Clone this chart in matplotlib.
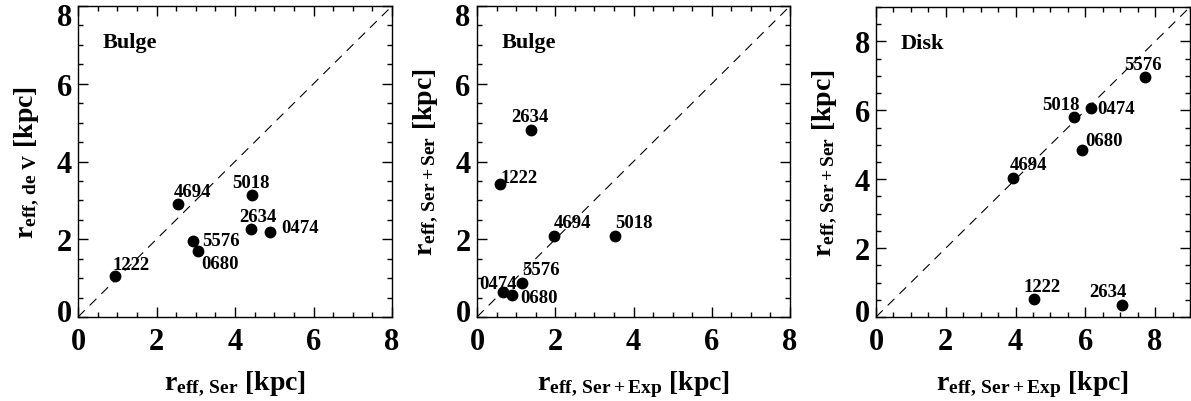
import matplotlib
matplotlib.use("Agg")
import matplotlib.pyplot as plt
import matplotlib.transforms as mtransforms
import numpy as np

plt.rcParams['font.family'] = ['Liberation Serif', 'DejaVu Serif']
plt.rcParams['font.weight'] = 'bold'
plt.rcParams['mathtext.fontset'] = 'custom'
plt.rcParams['mathtext.rm'] = 'Liberation Serif:bold'
plt.rcParams['mathtext.bf'] = 'Liberation Serif:bold'
plt.rcParams['mathtext.it'] = 'Liberation Serif:bold'

# ---- data ----
names1 = ['1222', '4694', '5018', '2634', '0474', '5576', '0680']
x1 = [0.94, 2.54, 4.43, 4.40, 4.89, 2.94, 3.06]
y1 = [1.05, 2.90, 3.13, 2.27, 2.19, 1.95, 1.70]

names2 = ['2634', '1222', '4694', '5018', '5576', '0474', '0680']
x2 = [1.37, 0.58, 1.97, 3.53, 1.15, 0.66, 0.89]
y2 = [4.82, 3.43, 2.08, 2.08, 0.88, 0.64, 0.56]

names3 = ['5576', '5018', '0474', '0680', '4694', '1222', '2634']
x3 = [7.72, 5.67, 6.15, 5.90, 3.93, 4.52, 7.05]
y3 = [6.97, 5.81, 6.07, 4.85, 4.03, 0.53, 0.36]

titles = ['Bulge', 'Bulge', 'Disk']
xlabels = [r'$\mathrm{r}_{\mathrm{eff,\,Ser}}$ [kpc]',
           r'$\mathrm{r}_{\mathrm{eff,\,Ser+Exp}}$ [kpc]',
           r'$\mathrm{r}_{\mathrm{eff,\,Ser+Exp}}$ [kpc]']
ylabels = [r'$\mathrm{r}_{\mathrm{eff,\,de\ V}}$ [kpc]',
           r'$\mathrm{r}_{\mathrm{eff,\,Ser+Ser}}$ [kpc]',
           r'$\mathrm{r}_{\mathrm{eff,\,Ser+Ser}}$ [kpc]']
limits = [8, 8, 9]

# label offsets in pixels (dx right, dy up) -- layout only
offs1 = [(15.7, 11.7), (14.7, 13.0), (-1, 13.3), (7.7, 12.7), (30, 4.7), (28, 0.7), (21.7, -12.7)]
offs2 = [(-1, 12.7), (19.3, 5.7), (18.3, 13.3), (18.7, 13.7), (19.3, 13.3), (-5, 9), (26.7, -2.3)]
offs3 = [(-2.7, 12.3), (-12.7, 12.3), (25.7, -1), (21.7, 9), (15, 13.3), (8.3, 12.7), (-13.7, 12.7)]

W, H = 1191, 402
fig = plt.figure(figsize=(W / 100, H / 100), dpi=100)

boxes = [(78, 7, 314, 311), (477, 7, 313, 311), (876, 8, 314, 310)]
panels = [(names1, x1, y1, offs1), (names2, x2, y2, offs2), (names3, x3, y3, offs3)]

px2pt = 72 / 100.0
for i, ((l, t, w, h), (nm, xs, ys, offs)) in enumerate(zip(boxes, panels)):
    ax = fig.add_axes([l / W, 1 - (t + h) / H, w / W, h / H])
    lim = limits[i]
    ax.set_xlim(0, lim)
    ax.set_ylim(0, lim)
    ax.plot([0, lim], [0, lim], color='black', lw=0.8, ls=(0, (8.5, 6.3)))
    ax.plot(xs, ys, 'o', color='black', ms=7.5)
    for n, xv, yv, (dx, dy) in zip(nm, xs, ys, offs):
        ax.annotate(n, (xv, yv), xytext=(dx * px2pt, dy * px2pt), textcoords='offset points',
                    ha='center', va='center', fontsize=13.5, fontweight='bold')
    ax.text(0.08, 0.884, titles[i], transform=ax.transAxes, fontsize=16,
            fontweight='bold', ha='left', va='center')
    yt = np.arange(0, lim + 0.01, 2)
    ax.set_xticks(np.arange(0, lim + 0.01, 2))
    ax.set_yticks(yt)
    ax.set_xticks(np.arange(0, lim + 0.01, 0.5), minor=True)
    ax.set_yticks(np.arange(0, lim + 0.01, 0.5), minor=True)
    ax.tick_params(which='both', direction='in', top=True, right=True, width=1.0)
    ax.tick_params(which='major', length=7, labelsize=22)
    ax.tick_params(axis='y', which='major', pad=4.5)
    ax.tick_params(axis='x', which='major', pad=7)
    ax.tick_params(which='minor', length=3.5)
    for lab in ax.get_xticklabels() + ax.get_yticklabels():
        lab.set_fontweight('bold')
    # nudge the end labels of the y axis inside the frame
    for tv, tick in zip(yt, ax.yaxis.get_major_ticks()):
        if tv == 0:
            shift = 7
        elif tv == lim:
            shift = -8
        else:
            shift = 0
        if shift:
            off = mtransforms.ScaledTranslation(0, shift / 100.0, fig.dpi_scale_trans)
            tick.label1.set_transform(tick.label1.get_transform() + off)
    for s in ax.spines.values():
        s.set_linewidth(1.0)
    ax.set_xlabel(xlabels[i], fontsize=20, fontweight='bold', labelpad=9)
    ax.set_ylabel(ylabels[i], fontsize=20, fontweight='bold', labelpad=11)

fig.savefig('out.png', dpi=100)
